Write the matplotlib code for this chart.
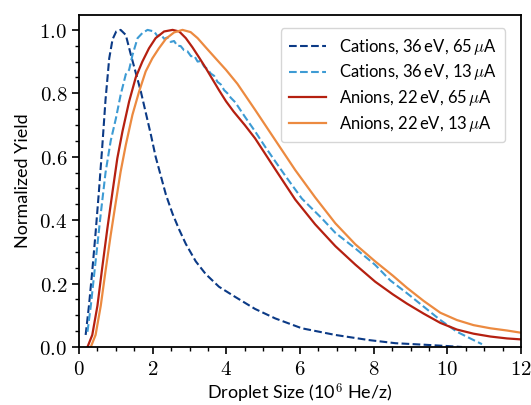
import numpy as np
import matplotlib
matplotlib.use('Agg')
import matplotlib.pyplot as plt
from matplotlib.ticker import MultipleLocator, FuncFormatter

plt.rcParams['mathtext.fontset'] = 'cm'
plt.rcParams['font.family'] = ['Lato', 'DejaVu Sans']

# cations 36 eV, 65 uA
x_c65 = [0.18, 0.27, 0.36, 0.45, 0.54, 0.63, 0.72, 0.82, 0.91, 1.01, 1.13, 1.27, 1.40, 1.54,
         1.68, 1.81, 1.95, 2.08, 2.22, 2.36, 2.54, 2.72, 2.90, 3.17, 3.44, 3.80, 4.24, 4.78,
         5.33, 6.05, 6.96, 7.86, 8.59, 9.4, 10.0, 10.4]
y_c65 = [0.038, 0.13, 0.24, 0.36, 0.49, 0.63, 0.78, 0.91, 0.97, 0.995, 1.0, 0.984, 0.925, 0.865,
         0.805, 0.74, 0.67, 0.60, 0.54, 0.48, 0.42, 0.37, 0.325, 0.27, 0.23, 0.19, 0.158, 0.12,
         0.09, 0.059, 0.038, 0.022, 0.012, 0.007, 0.003, 0.0]

# cations 36 eV, 13 uA
x_c13 = [0.23, 0.32, 0.45, 0.59, 0.72, 0.86, 1.00, 1.13, 1.27, 1.36, 1.45, 1.59, 1.72, 1.86,
         2.04, 2.13, 2.22, 2.31, 2.40, 2.49, 2.58, 2.67, 2.76, 2.85, 2.94, 3.04, 3.13, 3.22,
         3.31, 3.40, 3.49, 3.58, 3.67, 3.76, 3.85, 3.94, 4.03, 4.12, 4.24, 4.51, 4.78, 5.05,
         5.33, 5.60, 6.05, 6.59, 6.96, 7.50, 8.04, 8.45, 8.90, 9.36, 9.81, 10.26, 10.71, 10.94]
y_c13 = [0.048, 0.13, 0.27, 0.42, 0.55, 0.65, 0.72, 0.795, 0.86, 0.874, 0.92, 0.974, 0.99, 1.0,
         0.995, 0.98, 0.986, 0.972, 0.976, 0.962, 0.965, 0.95, 0.949, 0.936, 0.933, 0.917, 0.918, 0.90,
         0.902, 0.884, 0.876, 0.862, 0.855, 0.836, 0.828, 0.81, 0.80, 0.786, 0.772, 0.725, 0.68, 0.632,
         0.585, 0.54, 0.468, 0.406, 0.36, 0.311, 0.259, 0.21, 0.17, 0.127, 0.085, 0.048, 0.022, 0.009]

# anions 22 eV, 65 uA
x_a65 = [0.23, 0.36, 0.50, 0.63, 0.77, 0.91, 1.04, 1.18, 1.36, 1.54, 1.72, 1.90, 2.08, 2.31,
         2.54, 2.72, 2.90, 3.08, 3.26, 3.44, 3.62, 3.80, 3.99, 4.20, 4.50, 4.78, 5.33, 5.87,
         6.41, 6.96, 7.50, 8.04, 8.52, 8.90, 9.36, 9.81, 10.26, 10.71, 11.17, 11.62, 12.0]
y_a65 = [0.0, 0.038, 0.13, 0.25, 0.374, 0.49, 0.595, 0.68, 0.774, 0.85, 0.90, 0.942, 0.974, 0.995,
         1.0, 0.995, 0.974, 0.945, 0.913, 0.88, 0.845, 0.81, 0.775, 0.742, 0.70, 0.658, 0.56, 0.465,
         0.387, 0.318, 0.26, 0.206, 0.166, 0.137, 0.105, 0.076, 0.055, 0.042, 0.033, 0.027, 0.024]

# anions 22 eV, 13 uA
x_a13 = [0.32, 0.45, 0.59, 0.72, 0.86, 1.00, 1.13, 1.27, 1.45, 1.63, 1.81, 1.99, 2.17, 2.36,
         2.58, 2.81, 3.03, 3.22, 3.44, 3.71, 3.99, 4.30, 4.78, 5.33, 5.87, 6.41, 6.96, 7.50,
         8.04, 8.52, 8.90, 9.36, 9.81, 10.26, 10.71, 11.17, 11.62, 12.0]
y_a13 = [0.0, 0.038, 0.13, 0.24, 0.353, 0.458, 0.553, 0.637, 0.732, 0.805, 0.869, 0.91, 0.942, 0.972,
         0.992, 1.0, 0.993, 0.974, 0.945, 0.91, 0.874, 0.83, 0.748, 0.652, 0.558, 0.472, 0.39, 0.324,
         0.27, 0.225, 0.187, 0.145, 0.108, 0.085, 0.069, 0.059, 0.052, 0.045]

labels = [r'Cations, 36$\,$eV, 65$\,\mu$A', r'Cations, 36$\,$eV, 13$\,\mu$A',
          r'Anions, 22$\,$eV, 65$\,\mu$A', r'Anions, 22$\,$eV, 13$\,\mu$A']

fig = plt.figure(figsize=(5.31, 4.05), dpi=100)
ax = fig.add_axes([0.1488, 0.1432, 0.8324, 0.8198])

ax.plot(x_c65, y_c65, '--', color='#0b3a86', lw=1.5, label=labels[0])
ax.plot(x_c13, y_c13, '--', color='#3d9bd4', lw=1.5, label=labels[1])
ax.plot(x_a65, y_a65, '-', color='#b52010', lw=1.6, label=labels[2])
ax.plot(x_a13, y_a13, '-', color='#ec8a40', lw=1.6, label=labels[3])

ax.set_xlim(0, 12)
ax.set_ylim(0, 1.047)
ax.xaxis.set_major_locator(MultipleLocator(2))
ax.xaxis.set_minor_locator(MultipleLocator(0.5))
ax.yaxis.set_major_locator(MultipleLocator(0.2))
ax.yaxis.set_minor_locator(MultipleLocator(0.05))
ax.xaxis.set_major_formatter(FuncFormatter(lambda v, p: r'$%d$' % v))
ax.yaxis.set_major_formatter(FuncFormatter(lambda v, p: r'$%.1f$' % v))
ax.tick_params(which='major', length=5, width=1.2, labelsize=15)
ax.tick_params(which='minor', length=3, width=1.0)
for s in ax.spines.values():
    s.set_linewidth(1.3)

ax.set_xlabel(r'Droplet Size (10$^6$ He/z)', fontsize=13, labelpad=2)
ax.set_ylabel('Normalized Yield', fontsize=13, labelpad=6)

ax.legend(loc='upper right', fontsize=12, handlelength=2.2, frameon=True,
          borderpad=0.5, labelspacing=0.35, bbox_to_anchor=(0.983, 0.985))

fig.savefig('out.png', dpi=100)
